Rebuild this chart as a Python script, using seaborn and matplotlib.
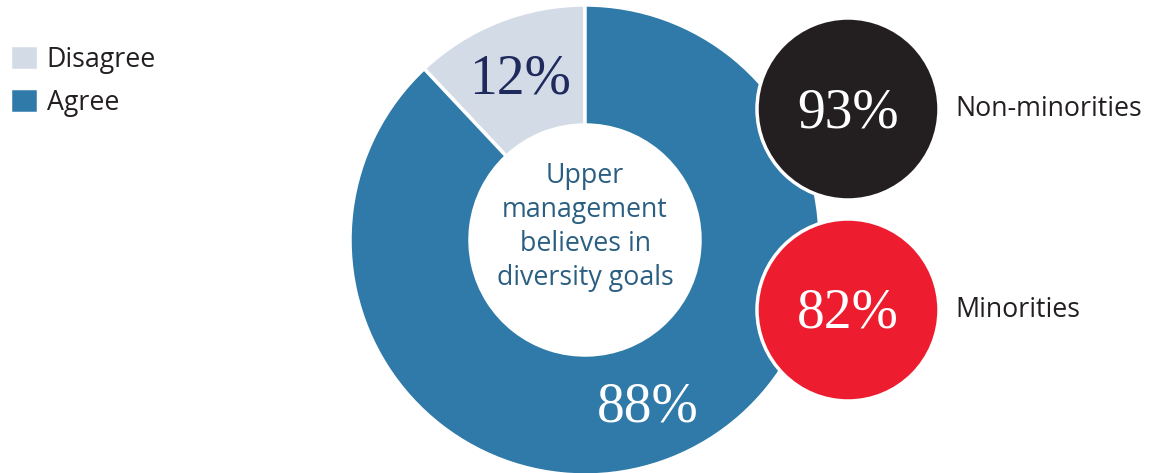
import matplotlib
matplotlib.use("Agg")
import matplotlib.pyplot as plt
from matplotlib.patches import Circle
import seaborn as sns

# Survey response shares
responses = ["Disagree", "Agree"]
shares = [12, 88]
response_colors = ["#d3dbe7", "#2f7aa9"]
share_label_colors = ["#1f2a5c", "#ffffff"]

# Agreement by group
groups = ["Non-minorities", "Minorities"]
group_shares = [93, 82]
group_colors = ["#231f20", "#ed1c2e"]

center_text = "Upper\nmanagement\nbelieves in\ndiversity goals"

sns.set_theme(style="white")
plt.rcParams["font.family"] = ["Open Sans", "DejaVu Sans"]

W, H = 1149, 473
fig = plt.figure(figsize=(W / 100, H / 100), dpi=100)
ax = fig.add_axes([0, 0, 1, 1])

cx, cy, R, r_in = 585, 233, 235, 115
wedges, _ = ax.pie(
    shares, colors=response_colors, startangle=90, counterclock=True,
    center=(cx, cy), radius=R, frame=True,
    wedgeprops=dict(width=R - r_in, edgecolor="white", linewidth=2.5),
)
ax.set_xlim(0, W)
ax.set_ylim(0, H)
ax.set_aspect("equal")
ax.axis("off")

serif = ["Liberation Serif", "DejaVu Serif"]
share_pos = [(520, 393), (648, 65)]
for val, col, (x, y) in zip(shares, share_label_colors, share_pos):
    ax.text(x, y, f"{val}%", ha="center", va="center", color=col,
            fontsize=40, family=serif)

ax.text(cx, 246, center_text, ha="center", va="center", color="#2b5f82",
        fontsize=19.3, linespacing=1.27)

circle_pos = [(848, 364), (848, 163)]
for name, val, col, (x, y) in zip(groups, group_shares, group_colors, circle_pos):
    ax.add_patch(Circle((x, y), 91, facecolor=col, edgecolor="white",
                        linewidth=2.5, zorder=3))
    ax.text(x, y - 4, f"{val}%", ha="center", va="center", color="white",
            fontsize=40, family=serif, zorder=4)
    ax.text(955, y, name, ha="left", va="center", color="#231f20",
            fontsize=19.3, zorder=4)

leg = ax.legend(wedges, responses, loc="upper left",
                bbox_to_anchor=(0.009, 0.905), frameon=False,
                fontsize=19.3, handlelength=1.05, handleheight=1.05,
                handletextpad=0.3, labelspacing=0.55, borderaxespad=0,
                borderpad=0, labelcolor="#231f20")

fig.savefig("out.png", dpi=100)
